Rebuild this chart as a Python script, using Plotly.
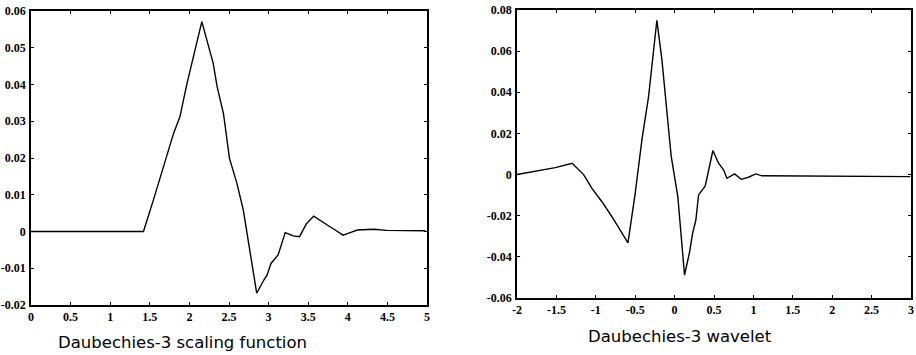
import plotly.graph_objects as go

# Daubechies-3 scaling function (left panel)
phi_x = [0.0, 1.42, 1.546, 1.69, 1.80, 1.88, 1.97, 2.157, 2.22, 2.30, 2.35, 2.43,
         2.506, 2.60, 2.68, 2.85, 2.94, 2.98, 3.03, 3.12, 3.21, 3.31, 3.39, 3.48,
         3.57, 3.65, 3.76, 3.84, 3.94, 4.03, 4.12, 4.33, 4.49, 4.98]
phi_y = [0.0, 0.0, 0.0086, 0.0185, 0.0267, 0.0312, 0.0403, 0.0571, 0.052, 0.0458,
         0.0394, 0.0321, 0.0199, 0.0131, 0.0059, -0.0168, -0.0132, -0.0119, -0.0087,
         -0.0064, -0.0003, -0.0012, -0.0014, 0.0022, 0.0042, 0.0030, 0.0015, 0.0004,
         -0.0010, -0.0003, 0.0004, 0.0006, 0.0003, 0.0002]

# Daubechies-3 wavelet (right panel)
psi_x = [-2.0, -1.514, -1.30, -1.155, -1.049, -0.922, -0.795, -0.69, -0.592, -0.50,
         -0.415, -0.33, -0.225, -0.161, -0.119, -0.043, 0.041, 0.126, 0.19, 0.228,
         0.27, 0.304, 0.389, 0.486, 0.558, 0.621, 0.664, 0.761, 0.846, 0.937, 1.03,
         1.11, 2.99]
psi_y = [0.0, 0.0034, 0.0055, 0.0, -0.0067, -0.0132, -0.0205, -0.027, -0.0332, -0.0091,
         0.0169, 0.038, 0.075, 0.0559, 0.0397, 0.0088, -0.0107, -0.0489, -0.0377, -0.0286,
         -0.0221, -0.0099, -0.0055, 0.0117, 0.0055, 0.0023, -0.0018, 0.0003, -0.0023,
         -0.0013, 0.0003, -0.0006, -0.001]

left_xticks = [0, 0.5, 1, 1.5, 2, 2.5, 3, 3.5, 4, 4.5, 5]
left_xlabels = ["0", "0.5", "1", "1.5", "2", "2.5", "3", "3.5", "4", "4.5", "5"]
left_yticks = [-0.02, -0.01, 0, 0.01, 0.02, 0.03, 0.04, 0.05, 0.06]
left_ylabels = ["-0.02", "-0.01", "0", "0.01", "0.02", "0.03", "0.04", "0.05", "0.06"]
right_xticks = [-2, -1.5, -1, -0.5, 0, 0.5, 1, 1.5, 2, 2.5, 3]
right_xlabels = ["-2", "-1.5", "-1", "-0.5", "0", "0.5", "1", "1.5", "2", "2.5", "3"]
right_yticks = [-0.06, -0.04, -0.02, 0, 0.02, 0.04, 0.06, 0.08]
right_ylabels = ["-0.06", "-0.04", "-0.02", "0", "0.02", "0.04", "0.06", "0.08"]

titles = ["Daubechies-3 scaling function", "Daubechies-3 wavelet"]

W, H = 916, 355

fig = go.Figure()
fig.add_trace(go.Scatter(x=phi_x, y=phi_y, mode="lines", xaxis="x", yaxis="y",
                         line=dict(color="black", width=1.4), showlegend=False))
fig.add_trace(go.Scatter(x=psi_x, y=psi_y, mode="lines", xaxis="x2", yaxis="y2",
                         line=dict(color="black", width=1.4), showlegend=False))

tickfont = dict(family="Liberation Serif", size=12, color="black", weight="bold")
axis_common = dict(showgrid=False, zeroline=False, showline=True, linecolor="black",
                   linewidth=1.5, mirror="ticks", ticks="inside", ticklen=3,
                   tickcolor="black", tickwidth=1, tickfont=tickfont,
                   automargin=False, ticklabeloverflow="allow")

def px_dom(a, b, total):
    return [a / total, b / total]

fig.update_layout(
    width=W, height=H, margin=dict(l=0, r=0, t=0, b=0, autoexpand=False),
    paper_bgcolor="white", plot_bgcolor="white",
    xaxis=dict(domain=px_dom(31, 427, W), range=[0, 5], tickvals=left_xticks,
               ticktext=left_xlabels, anchor="y", ticklabelstandoff=0, **axis_common),
    yaxis=dict(domain=[1 - 305 / H, 1 - 11 / H], range=[-0.02, 0.06],
               tickvals=left_yticks, ticktext=left_ylabels, anchor="x",
               ticklabelstandoff=1, **axis_common),
    xaxis2=dict(domain=px_dom(517, 911, W), range=[-2, 3], tickvals=right_xticks,
                ticktext=right_xlabels, anchor="y2", ticklabelstandoff=0, **axis_common),
    yaxis2=dict(domain=[1 - 298 / H, 1 - 10 / H], range=[-0.06, 0.08],
                tickvals=right_yticks, ticktext=right_ylabels, anchor="x2",
                ticklabelstandoff=1, **axis_common),
    annotations=[
        dict(text=titles[0], x=182 / W, y=1 - 342 / H, xref="paper", yref="paper",
             xanchor="center", yanchor="middle", showarrow=False,
             font=dict(family="DejaVu Sans", size=16.5, color="black")),
        dict(text=titles[1], x=680 / W, y=1 - 336 / H, xref="paper", yref="paper",
             xanchor="center", yanchor="middle", showarrow=False,
             font=dict(family="DejaVu Sans", size=16.5, color="black")),
    ],
)

fig.write_html(
    "out.html",
    config={"displayModeBar": False},
    post_script="document.body.style.margin='0';document.body.style.padding='0';"
                "document.body.style.overflow='hidden';",
)
